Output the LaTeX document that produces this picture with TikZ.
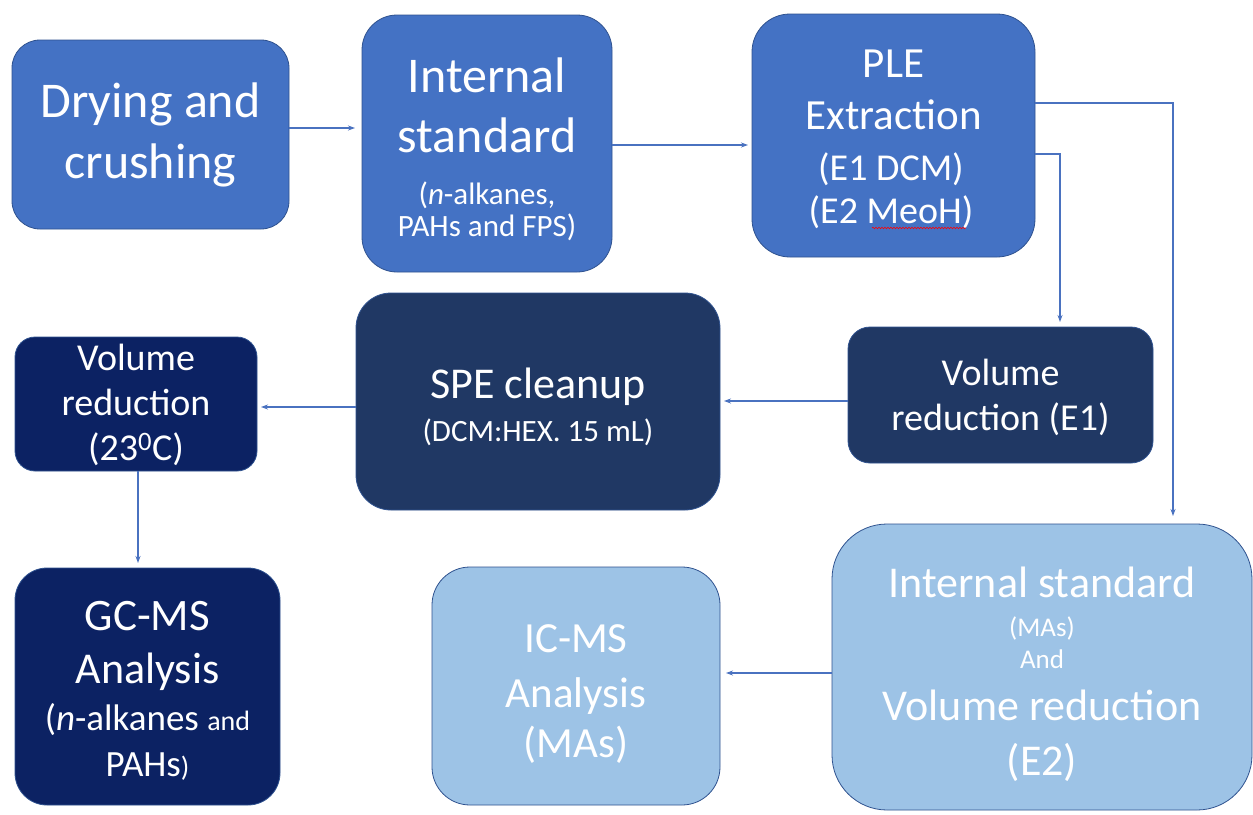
\documentclass[tikz,border=0pt]{standalone}
\usepackage{fontspec}
\setmainfont{Carlito}
\usetikzlibrary{arrows.meta,decorations.pathmorphing}
\definecolor{midblue}{HTML}{4472C4}
\definecolor{darkblue}{HTML}{203864}
\definecolor{navy}{HTML}{0C2263}
\definecolor{lightblue}{HTML}{9DC3E6}
\definecolor{edge}{HTML}{2F528F}
\definecolor{arrowc}{HTML}{4A72C0}
\newcommand{\fs}[1]{\fontsize{#1}{#1}\selectfont}
\tikzset{
  box/.style={draw=edge, line width=0.8pt, rectangle, inner sep=0pt, outer sep=0pt},
  txt/.style={anchor=base, inner sep=0pt, text=white},
  arr/.style={draw=arrowc, line width=1.1pt, -{Stealth[length=7pt,width=5pt]}}
}
\begin{document}
\begin{tikzpicture}[x=1pt,y=-1pt]
\useasboundingbox (0,0) rectangle (1253,814);
\fill[white] (0,0) rectangle (1253,814);
% boxes
\node[box, fill=midblue, minimum width=277pt, minimum height=189pt, rounded corners=28pt] (b1) at (150.5,134.5) {};
\node[box, fill=midblue, minimum width=250pt, minimum height=257pt, rounded corners=35pt] (b2) at (487,143.5) {};
\node[box, fill=midblue, minimum width=283pt, minimum height=243pt, rounded corners=38pt] (b3) at (893.5,135.5) {};
\node[box, fill=darkblue, minimum width=364pt, minimum height=217pt, rounded corners=35pt] (b4) at (538,401.5) {};
\node[box, fill=darkblue, minimum width=305pt, minimum height=136pt, rounded corners=22pt] (b5) at (1000.5,395) {};
\node[box, fill=navy, minimum width=242pt, minimum height=134pt, rounded corners=20pt] (b6) at (136,404) {};
\node[box, fill=navy, minimum width=265pt, minimum height=237pt, rounded corners=32pt] (b7) at (147.5,686.5) {};
\node[box, fill=lightblue, minimum width=288pt, minimum height=238pt, rounded corners=38pt] (b8) at (576,686) {};
\node[box, fill=lightblue, minimum width=420pt, minimum height=286pt, rounded corners=55pt] (b9) at (1042,667) {};
% texts
\node[txt, font=\fs{50}] (t1a) at (150.5,117) {Drying and};
\node[txt, font=\fs{50}] (t1b) at (150.5,178) {crushing};
\node[txt, font=\fs{50}] (t2a) at (487,92) {Internal};
\node[txt, font=\fs{50}] (t2b) at (487,152) {standard};
\node[txt, font=\fs{31}] (t2c) at (487,204) {(\textit{n}-alkanes,};
\node[txt, font=\fs{31}] (t2d) at (487,236) {PAHs and FPS)};
\node[txt, font=\fs{43}] (t3a) at (893.5,77) {PLE};
\node[txt, font=\fs{43}] (t3b) at (893.5,129) {Extraction};
\node[txt, font=\fs{38}] (t3c) at (891,180) {(E1 DCM)};
\node[txt, font=\fs{38}] (t3d) at (891,223) {(E2 MeoH)};
\draw[red, line width=0.6pt, decorate, decoration={snake, amplitude=0.8pt, segment length=3pt}] (872,228) -- (966,228);
\node[txt, font=\fs{44}] (t4a) at (538,398) {SPE cleanup};
\node[txt, font=\fs{31}] (t4b) at (538,441) {(DCM:HEX. 15 mL)};
\node[txt, font=\fs{38}] (t5a) at (1000.5,385) {Volume};
\node[txt, font=\fs{38}] (t5b) at (1000.5,430) {reduction (E1)};
\node[txt, font=\fs{38}] (t6a) at (136,370) {Volume};
\node[txt, font=\fs{38}] (t6b) at (136,415) {reduction};
\node[txt, font=\fs{38}] (t6c) at (136,460) {(23\textsuperscript{0}C)};
\node[txt, font=\fs{45}] (t7a) at (147.5,630) {GC-MS};
\node[txt, font=\fs{44}] (t7b) at (147.5,683) {Analysis};
\node[txt, font=\fs{37}] (t7c) at (147.5,730) {(\textit{n}-alkanes {\fs{28}and}};
\node[txt, font=\fs{37}] (t7d) at (147.5,776) {PAHs{\fs{28})}};
\node[txt, font=\fs{43}] (t8a) at (576,652) {IC-MS};
\node[txt, font=\fs{43}] (t8b) at (576,707) {Analysis};
\node[txt, font=\fs{43}] (t8c) at (576,757) {(MAs)};
\node[txt, font=\fs{44}] (t9a) at (1042,597) {Internal standard};
\node[txt, font=\fs{27}] (t9b) at (1042,636) {(MAs)};
\node[txt, font=\fs{27}] (t9c) at (1042,668) {And};
\node[txt, font=\fs{44}] (t9d) at (1042,720) {Volume reduction};
\node[txt, font=\fs{44}] (t9e) at (1042,775) {(E2)};
% connectors
\draw[arr, shorten >=7pt] (b1.east |- 0,128) -- (b2.west |- 0,128);
\draw[arr, shorten >=4pt] (b2.east |- 0,145) -- (b3.west |- 0,145);
\draw[arr, shorten >=8pt] (b3.east |- 0,103) -| (b9.north -| 1173,0);
\draw[arr, shorten >=5pt] (b3.east |- 0,154) -| (b5.north -| 1060,0);
\draw[arr, shorten >=4pt] (b5.west |- 0,401) -- (b4.east |- 0,401);
\draw[arr, shorten >=4pt] (b4.west |- 0,407) -- (b6.east |- 0,407);
\draw[arr, shorten >=5pt] (b6.south -| 138,0) -- (b7.north -| 138,0);
\draw[arr, shorten >=6pt] (b9.west |- 0,673) -- (b8.east |- 0,673);
\end{tikzpicture}
\end{document}
